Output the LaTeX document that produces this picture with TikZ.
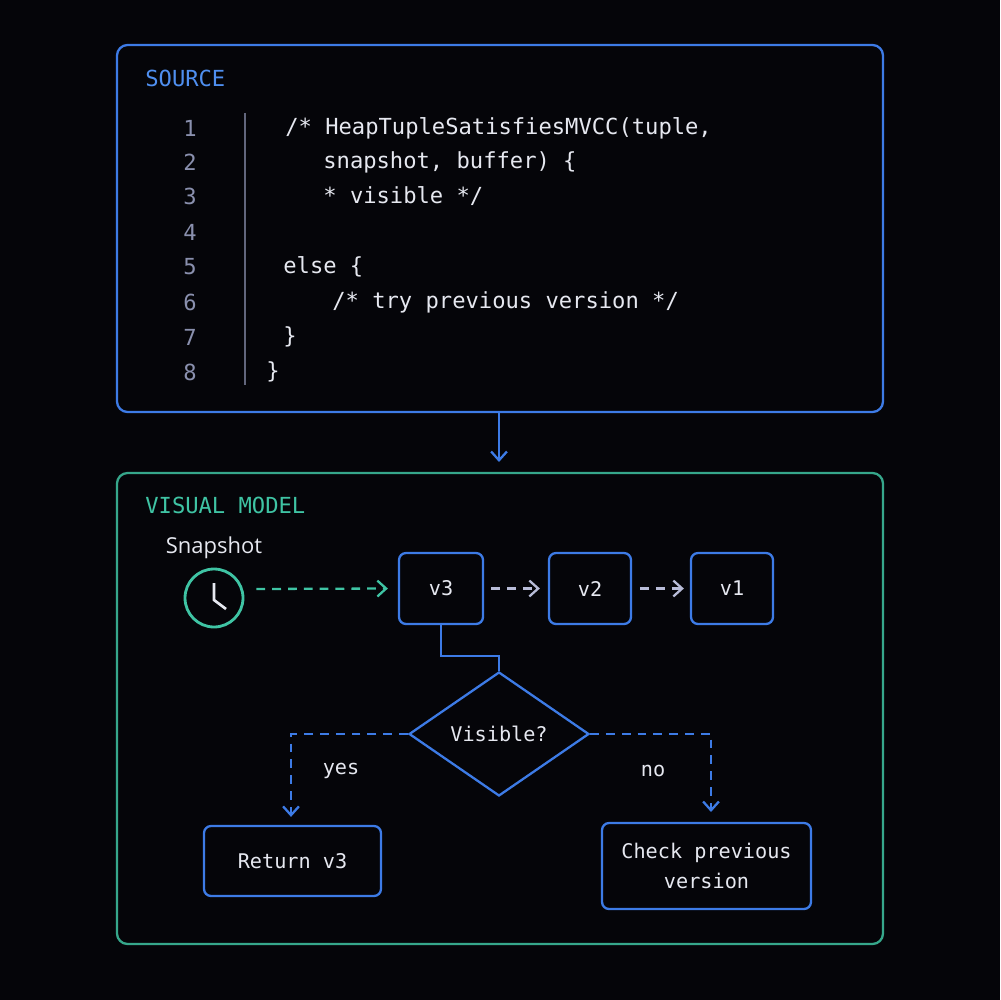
\documentclass[tikz,border=0pt]{standalone}
\usepackage{fontspec}
\setmainfont{Open Sans}
\setmonofont{DejaVu Sans Mono}
\usetikzlibrary{arrows.meta,shapes.geometric}
\definecolor{bg}{HTML}{050509}
\definecolor{blu}{HTML}{3D7BE6}
\definecolor{blt}{HTML}{4F8FF0}
\definecolor{teal}{HTML}{3FC4A4}
\definecolor{gry}{HTML}{8A90AE}
\definecolor{txt}{HTML}{E6E8F0}
\definecolor{lav}{HTML}{B8BCD8}
\begin{document}
\begin{tikzpicture}[x=0.02cm,y=-0.02cm,
  code/.style={anchor=west,text=txt,font=\ttfamily\fontsize{12.6}{14}\selectfont,inner sep=0},
  num/.style={text=gry,font=\ttfamily\fontsize{12.6}{14}\selectfont,inner sep=0},
  box/.style={draw=blu,line width=1.3pt,rounded corners=4pt,fill=bg,text=txt,font=\ttfamily\fontsize{11.5}{17}\selectfont,align=center},
  conn/.style={blu,line width=1.3pt},
  dsh/.style={dash pattern=on 5pt off 4pt},
  tip/.style={-{Straight Barb[length=5pt,width=9pt]}}]
\fill[bg] (0,0) rectangle (1000,1000);
\useasboundingbox (0,0) rectangle (1000,1000);
\draw[blu,line width=1.3pt,rounded corners=6pt] (117,45) rectangle (883,412);
\draw[teal!85!black,line width=1.3pt,rounded corners=6pt] (117,473) rectangle (883,944);
\node[anchor=west,inner sep=0,text=blt,font=\ttfamily\fontsize{12.6}{14}\selectfont] (src) at (145,78) {SOURCE};
\node[anchor=west,inner sep=0,text=teal,font=\ttfamily\fontsize{12.6}{14}\selectfont] (vm) at (145,505) {VISUAL MODEL};
\foreach \n/\y in {1/128,2/162,3/196,4/232,5/267,6/302,7/337,8/372}
  \node[num] (n\n) at (190,\y) {\n};
\draw[gry!70!bg,line width=1pt] (245,113) -- (245,385);
\node[code] (c1) at (285,128) {/* HeapTupleSatisfiesMVCC(tuple,};
\node[code] (c2) at (323,162) {snapshot, buffer) \{};
\node[code] (c3) at (323,196) {* visible */};
\node[code] (c5) at (283,267) {else \{};
\node[code] (c6) at (332,302) {/* try previous version */};
\node[code] (c7) at (283,337) {\}};
\node[code] (c8) at (266,372) {\}};
\coordinate (sb) at (499,412);
\coordinate (vt) at (499,462);
\draw[conn,tip] (sb) -- (vt);
% visual model
\node[inner sep=0,text=txt,font=\fontsize{12.5}{14}\selectfont] (snap) at (214,548) {Snapshot};
\node[circle,draw=teal,line width=1.6pt,minimum size=58\pgflinewidth*0+1.16cm,inner sep=0] (clk) at (214,598) {};
\draw[txt,line width=1.5pt] (214,583) -- (214,600) -- (226,609);
\node[box,minimum width=1.68cm,minimum height=1.42cm] (v3) at (441,588.5) {v3};
\node[box,minimum width=1.64cm,minimum height=1.42cm] (v2) at (590,588.5) {v2};
\node[box,minimum width=1.64cm,minimum height=1.42cm] (v1) at (732,588.5) {v1};
\draw[teal,line width=1.3pt,dsh,tip] (clk.east)+(12,-9) -- ([xshift=-0.2cm]v3.west);
\draw[lav,line width=1.3pt,dsh,tip] ([xshift=0.14cm]v3.east) -- ([xshift=-0.16cm]v2.west);
\draw[lav,line width=1.3pt,dsh,tip] ([xshift=0.16cm]v2.east) -- ([xshift=-0.12cm]v1.west);
\node[diamond,draw=blu,line width=1.3pt,fill=bg,text=txt,minimum width=3.6cm,minimum height=2.48cm,inner sep=0,aspect=1.45,font=\ttfamily\fontsize{11.5}{14}\selectfont] (vis) at (499,734) {Visible?};
\draw[conn] (v3.south) |- (499,656) -- (vis.north);
\node[box,minimum width=3.54cm,minimum height=1.4cm] (ret) at (292.5,861) {Return v3};
\node[box,minimum width=4.18cm,minimum height=1.72cm] (chk) at (706.5,866) {Check previous\\version};
\draw[conn,dsh,tip] (vis.west) -| ([yshift=0.16cm]ret.north-|291,0);
\draw[conn,dsh,tip] (vis.east) -| (711,812);
\node[text=txt,inner sep=0,font=\ttfamily\fontsize{11.5}{14}\selectfont] (yes) at (341,771) {yes};
\node[text=txt,inner sep=0,font=\ttfamily\fontsize{11.5}{14}\selectfont] (no) at (653,771) {no};
\end{tikzpicture}
\end{document}
